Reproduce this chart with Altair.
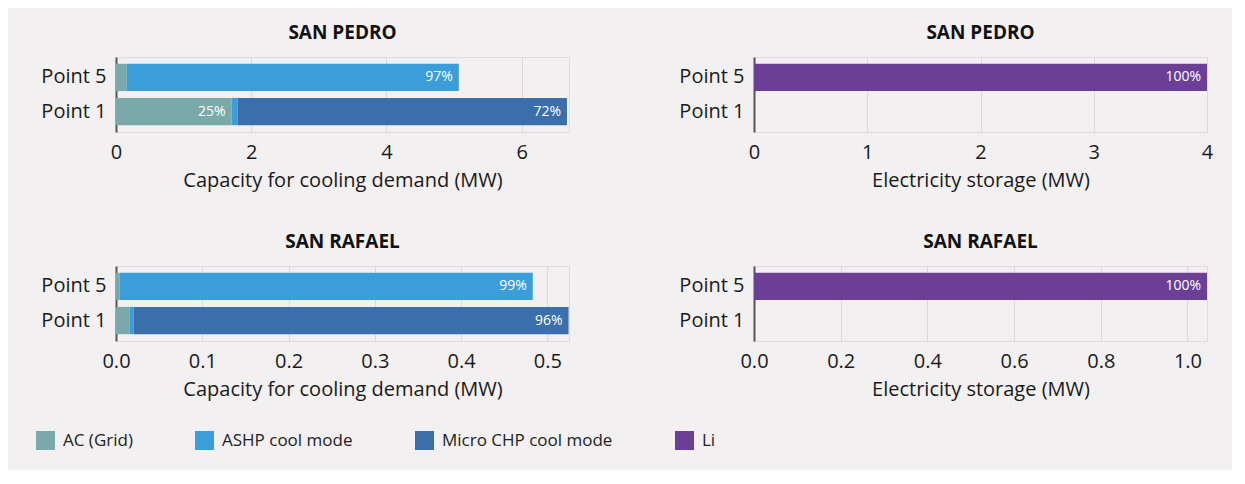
import altair as alt
import pandas as pd

points = ["Point 5", "Point 1"]
techs = ["AC (Grid)", "ASHP cool mode", "Micro CHP cool mode", "Li"]
tech_colors = ["#79aaa9", "#3b9dd9", "#3b6fab", "#6c3f96"]

# SAN PEDRO - capacity for cooling demand (MW), values for [Point 5, Point 1]
sp_ac = [0.16, 1.71]
sp_ashp = [4.91, 0.09]
sp_chp = [0.0, 4.87]
sp_ac_lbl = ["", "25%"]
sp_ashp_lbl = ["97%", ""]
sp_chp_lbl = ["", "72%"]

# SAN RAFAEL - capacity for cooling demand (MW), values for [Point 5, Point 1]
sr_ac = [0.004, 0.0155]
sr_ashp = [0.479, 0.005]
sr_chp = [0.0, 0.504]
sr_ac_lbl = ["", ""]
sr_ashp_lbl = ["99%", ""]
sr_chp_lbl = ["", "96%"]

# Electricity storage (MW), Li, values for [Point 5, Point 1]
sp_li = [4.0, 0.0]
sp_li_lbl = ["100%", ""]
sr_li = [1.045, 0.0]
sr_li_lbl = ["100%", ""]

panel_titles = ["SAN PEDRO", "SAN RAFAEL"]
cool_title = "Capacity for cooling demand (MW)"
stor_title = "Electricity storage (MW)"


def frame(series):
    rows = []
    for tech, vals, lbls in series:
        for p, v, l in zip(points, vals, lbls):
            rows.append({"point": p, "tech": tech, "mw": v, "label": l,
                         "ord": techs.index(tech)})
    return pd.DataFrame(rows)


def panel(df, title, xtitle, xmax, ticks, fmt):
    x = alt.X("mw:Q", stack="zero", title=xtitle,
              scale=alt.Scale(domain=[0, xmax], nice=False, zero=True),
              axis=alt.Axis(values=ticks, format=fmt, grid=True, domain=False,
                            ticks=False, labelPadding=10, titlePadding=8,
                            labelFlush=False))
    y = alt.Y("point:N", title=None,
              scale=alt.Scale(domain=points, paddingInner=0.2, paddingOuter=0.2),
              axis=alt.Axis(ticks=False, domain=True, domainColor="#555555",
                            domainWidth=2, labelPadding=10, grid=False))
    order = alt.Order("ord:Q")
    color = alt.Color("tech:N", scale=alt.Scale(domain=techs, range=tech_colors),
                      legend=alt.Legend(orient="none", legendX=-80, legendY=374,
                                        direction="horizontal", columns=4,
                                        columnPadding=62, title=None,
                                        symbolType="square", symbolSize=361,
                                        symbolStrokeWidth=0, symbolOpacity=1,
                                        labelFontSize=17, labelOffset=8,
                                        labelLimit=400,
                                        labelColor="#222222", gridAlign="none"))
    bars = alt.Chart(df).mark_bar().encode(x=x, y=y, color=color, order=order)
    text = alt.Chart(df).mark_text(align="right", baseline="middle", dx=-6,
                                   color="white", fontSize=14).encode(
        x=x, y=y, detail="tech:N", order=order, text="label:N")
    return alt.layer(bars, text).properties(
        width=453, height=75,
        title=alt.TitleParams(title, fontSize=19, fontWeight="bold",
                              color="#111111", offset=14))


p1 = panel(frame([("AC (Grid)", sp_ac, sp_ac_lbl),
                  ("ASHP cool mode", sp_ashp, sp_ashp_lbl),
                  ("Micro CHP cool mode", sp_chp, sp_chp_lbl)]),
           panel_titles[0], cool_title, 6.7, [0, 2, 4, 6], "d")
p2 = panel(frame([("Li", sp_li, sp_li_lbl)]),
           panel_titles[0], stor_title, 4.0, [0, 1, 2, 3, 4], "d")
p3 = panel(frame([("AC (Grid)", sr_ac, sr_ac_lbl),
                  ("ASHP cool mode", sr_ashp, sr_ashp_lbl),
                  ("Micro CHP cool mode", sr_chp, sr_chp_lbl)]),
           panel_titles[1], cool_title, 0.525, [0, 0.1, 0.2, 0.3, 0.4, 0.5], ".1f")
p4 = panel(frame([("Li", sr_li, sr_li_lbl)]),
           panel_titles[1], stor_title, 1.045, [0, 0.2, 0.4, 0.6, 0.8, 1.0], ".1f")

top = alt.hconcat(p1, p2, spacing=108)
bottom = alt.hconcat(p3, p4, spacing=108)

chart = alt.vconcat(top, bottom, spacing=41).properties(
    padding={"left": 28, "top": 15, "right": 18, "bottom": 20},
    background="#f2f0f1",
).configure_view(stroke=None).configure(
    font="Open Sans"
).configure_axis(
    labelFontSize=20, labelColor="#1a1a1a", titleFontSize=20,
    titleFontWeight="normal", titleColor="#1a1a1a", gridColor="#d9d9d9",
    gridWidth=1
)

chart.save("out.html", embed_options={"renderer": "svg", "actions": False})
